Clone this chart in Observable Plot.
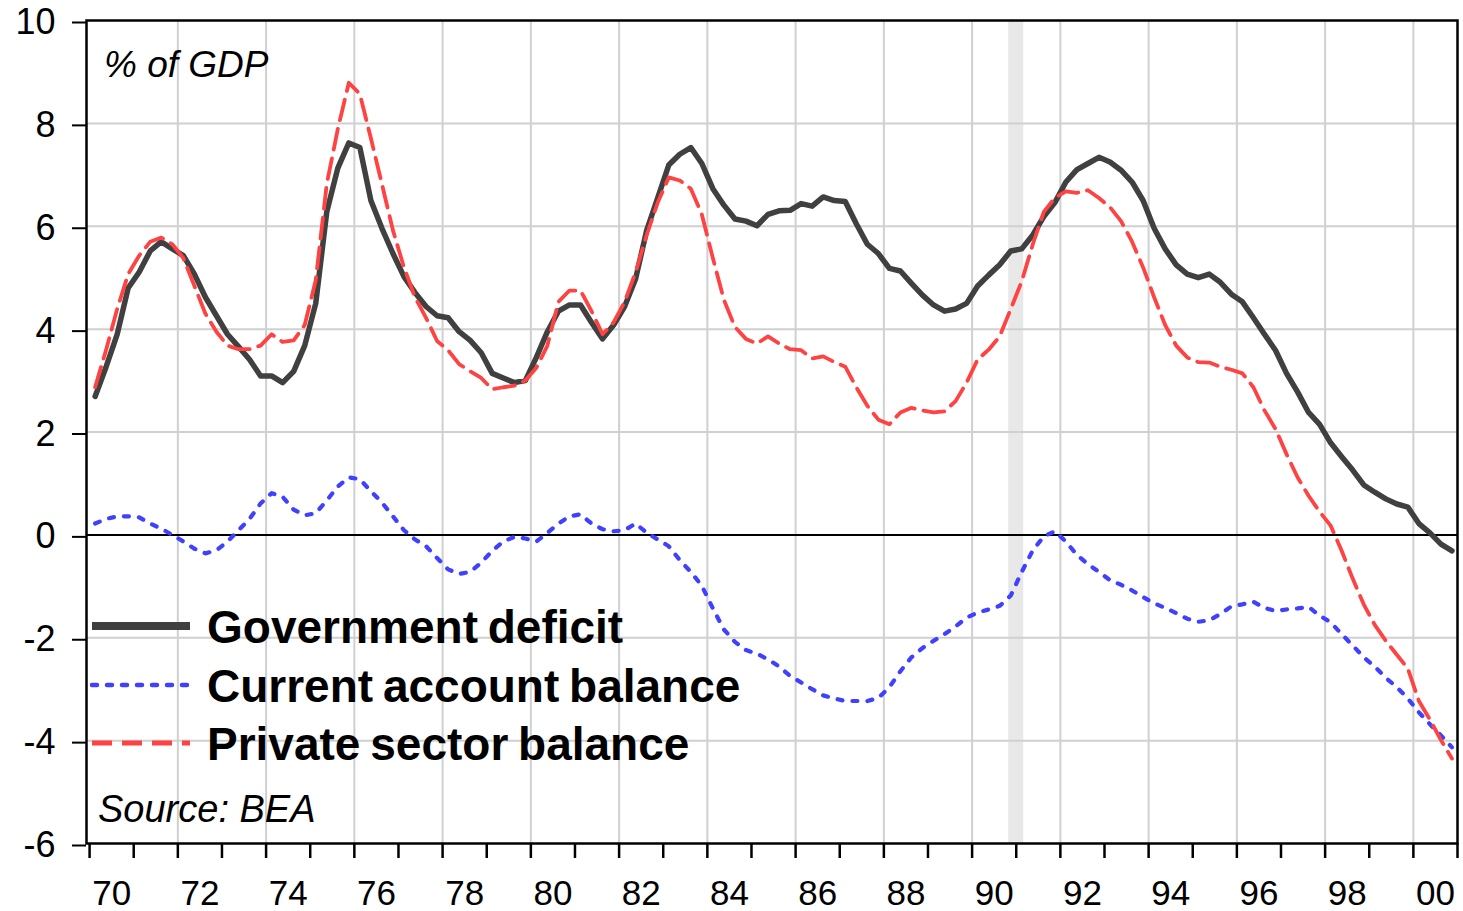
<!DOCTYPE html>
<html><head><meta charset="utf-8">
<script src="https://cdn.jsdelivr.net/npm/d3@7"></script>
<script src="https://cdn.jsdelivr.net/npm/@observablehq/plot@0.6"></script>
<style>
html,body{margin:0;padding:0;background:#fff;}
#wrap{position:relative;width:1463px;height:911px;font-family:"Liberation Sans",Arial,sans-serif;color:#000;}
.note{position:absolute;font-style:italic;font-size:37px;line-height:1;white-space:nowrap;}
.legtext{position:absolute;left:207px;font-weight:bold;font-size:46px;line-height:1;word-spacing:-3px;white-space:nowrap;}
.sw{position:absolute;left:90px;}
</style></head><body><div id="wrap"></div>
<script>
// Quarterly values, % of GDP, 1970Q1 .. 2000Q4
const startYear = 1970;
const govDeficit = [
  2.69, 3.27, 3.90, 4.80,  5.11, 5.52, 5.70, 5.56,  5.43, 5.07, 4.62, 4.26,  3.90, 3.66, 3.41, 3.09,
  3.09, 2.96, 3.18, 3.68,  4.50, 6.28, 7.13, 7.62,  7.53, 6.50, 5.96, 5.47,  5.02, 4.71, 4.44, 4.26,
  4.22, 3.95, 3.78, 3.54,  3.14, 3.05, 2.96, 3.00,  3.45, 3.95, 4.35, 4.47,  4.47, 4.13, 3.81, 4.08,
  4.44, 4.98, 5.92, 6.55,  7.19, 7.40, 7.53, 7.22,  6.73, 6.41, 6.14, 6.10,  6.01, 6.23, 6.30, 6.31,
  6.44, 6.39, 6.57, 6.50,  6.48, 6.05, 5.65, 5.47,  5.18, 5.13, 4.89, 4.66,  4.47, 4.35, 4.39, 4.50,
  4.84, 5.05, 5.25, 5.52,  5.56, 5.83, 6.19, 6.46,  6.86, 7.10, 7.22, 7.34,  7.25, 7.09, 6.86, 6.50,
  5.96, 5.56, 5.25, 5.07,  5.00, 5.07, 4.91, 4.68,  4.53, 4.22, 3.90, 3.59,  3.14, 2.78, 2.38, 2.15,
  1.79, 1.52, 1.26, 0.97,  0.83, 0.70, 0.60, 0.54,  0.22, 0.04, -0.18, -0.31
];
const currentAccount = [
  0.22, 0.31, 0.36, 0.36,  0.34, 0.22, 0.12, 0.00,  -0.13, -0.27, -0.36, -0.30,  -0.13, 0.09, 0.31, 0.61,
  0.81, 0.74, 0.49, 0.38,  0.42, 0.67, 0.94, 1.12,  1.08, 0.85, 0.63, 0.36,  0.09, -0.09, -0.22, -0.45,
  -0.67, -0.76, -0.72, -0.54,  -0.31, -0.13, -0.04, -0.07,  -0.13, 0.04, 0.22, 0.36,  0.40, 0.22, 0.11, 0.07,
  0.09, 0.22, 0.04, -0.09,  -0.22, -0.49, -0.72, -0.99,  -1.43, -1.84, -2.08, -2.24,  -2.31, -2.42, -2.56, -2.74,
  -2.87, -3.00, -3.12, -3.18,  -3.23, -3.23, -3.23, -3.17,  -2.96, -2.65, -2.38, -2.20,  -2.06, -1.93, -1.78, -1.61,
  -1.51, -1.45, -1.38, -1.18,  -0.72, -0.30, -0.03, 0.07,  -0.13, -0.39, -0.57, -0.72,  -0.88, -0.97, -1.08, -1.21,
  -1.33, -1.42, -1.52, -1.63,  -1.69, -1.66, -1.54, -1.39,  -1.35, -1.30, -1.42, -1.48,  -1.45, -1.43, -1.40, -1.57,
  -1.70, -1.93, -2.15, -2.38,  -2.56, -2.78, -2.96, -3.18,  -3.45, -3.68, -3.90, -4.13
];
const privateSector = [
  2.87, 3.60, 4.39, 5.07,  5.43, 5.70, 5.78, 5.65,  5.38, 4.84, 4.30, 3.95,  3.68, 3.61, 3.61, 3.68,
  3.90, 3.75, 3.78, 4.08,  4.95, 6.82, 7.89, 8.79,  8.57, 7.71, 6.82, 5.92,  5.20, 4.62, 4.22, 3.77,
  3.59, 3.32, 3.18, 3.05,  2.83, 2.87, 2.90, 3.00,  3.25, 3.68, 4.53, 4.75,  4.75, 4.35, 3.90, 4.13,
  4.53, 5.11, 5.83, 6.46,  6.95, 6.89, 6.73, 6.23,  5.38, 4.57, 4.04, 3.81,  3.72, 3.86, 3.72, 3.61,
  3.59, 3.43, 3.47, 3.36,  3.27, 2.87, 2.51, 2.24,  2.15, 2.38, 2.47, 2.42,  2.38, 2.40, 2.60, 2.96,
  3.41, 3.60, 3.86, 4.39,  4.93, 5.65, 6.28, 6.55,  6.68, 6.65, 6.70, 6.55,  6.37, 6.10, 5.70, 5.20,
  4.62, 4.08, 3.68, 3.45,  3.36, 3.35, 3.27, 3.21,  3.14, 2.87, 2.42, 2.06,  1.57, 1.12, 0.76, 0.45,
  0.18, -0.31, -0.85, -1.35,  -1.75, -2.06, -2.33, -2.60,  -3.23, -3.59, -3.99, -4.35
];
const seriesNames = ["Government deficit", "Current account balance", "Private sector balance"];
const yTicks = [-6, -4, -2, 0, 2, 4, 6, 8, 10];
const yearTicks = d3.range(1970, 2002);
const labelYears = [1970, 1972, 1974, 1976, 1978, 1980, 1982, 1984, 1986, 1988, 1990, 1992, 1994, 1996, 1998, 2000];
const labelTexts = ["70", "72", "74", "76", "78", "80", "82", "84", "86", "88", "90", "92", "94", "96", "98", "00"];
const recession = [{start: 1990.83, end: 1991.17}];
const noteTop = "% of GDP";
const noteBottom = "Source: BEA";

const toRows = arr => arr.map((v, i) => ({t: startYear + (i + 0.5) / 4, v}));
const gov = toRows(govDeficit), ca = toRows(currentAccount), ps = toRows(privateSector);
const labelMap = new Map(labelYears.map((y, i) => [y + 0.5, labelTexts[i]]));

const colors = {gov: "#404040", ca: "#4040ff", ps: "#ff4242"};

const chart = Plot.plot({
  width: 1463, height: 911,
  marginLeft: 86, marginRight: 6, marginTop: 20, marginBottom: 68,
  x: {domain: [1969.93, 2001], label: null},
  y: {domain: [-6, 10], label: null},
  style: {fontFamily: "'Liberation Sans', Arial, sans-serif", fontSize: "35px", color: "#000", background: "#fff", overflow: "visible"},
  marks: [
    Plot.rect(recession, {x1: "start", x2: "end", fill: "#e8e8e8"}),
    Plot.gridX(labelYears.slice(1), {stroke: "#d0d0d0", strokeOpacity: 1, strokeWidth: 2}),
    Plot.gridY(yTicks.slice(1, -1), {stroke: "#d0d0d0", strokeOpacity: 1, strokeWidth: 2}),
    Plot.ruleY([0], {stroke: "#000", strokeWidth: 2}),
    Plot.axisY(yTicks, {tickSize: 14, tickPadding: 17, strokeWidth: 2, fontSize: 36, dy: 2, tickFormat: d => String(d)}),
    Plot.axisX(yearTicks, {tickSize: 15, strokeWidth: 2.5, tickFormat: () => ""}),
    Plot.axisX(labelYears.map(y => y + 0.5), {tickSize: 0, tickPadding: 37, fontSize: 35, tickFormat: d => labelMap.get(d)}),
    Plot.line(gov, {x: "t", y: "v", stroke: colors.gov, strokeWidth: 5.5, strokeLinejoin: "round"}),
    Plot.line(ca, {x: "t", y: "v", stroke: colors.ca, strokeWidth: 4.2, strokeDasharray: "5,10", strokeLinecap: "round"}),
    Plot.line(ps, {x: "t", y: "v", stroke: colors.ps, strokeWidth: 3.8, strokeDasharray: "21,9"}),
    Plot.frame({stroke: "#000", strokeWidth: 2.5})
  ]
});

const wrap = document.getElementById("wrap");
wrap.appendChild(chart);

function addNote(text, left, baseline, size) {
  const d = document.createElement("div");
  d.className = "note";
  d.textContent = text;
  d.style.fontSize = size + "px";
  d.style.left = left + "px";
  d.style.top = (baseline - 0.8465 * size) + "px";
  wrap.appendChild(d);
}
addNote(noteTop, 104, 77, 37);
addNote(noteBottom, 98, 822, 38);

const legendStyles = [
  {color: colors.gov, width: 8, dash: null, cap: "butt"},
  {color: colors.ca, width: 4.5, dash: "5,10", cap: "round"},
  {color: colors.ps, width: 5, dash: "20,10", cap: "butt"}
];
const legendY = [626, 685, 743];
seriesNames.forEach((name, i) => {
  const s = legendStyles[i];
  const svg = d3.create("svg").attr("class", "sw").attr("width", 104).attr("height", 20)
    .style("top", (legendY[i] - 10) + "px");
  svg.append("line").attr("x1", 2).attr("x2", 100).attr("y1", 10).attr("y2", 10)
    .attr("stroke", s.color).attr("stroke-width", s.width)
    .attr("stroke-dasharray", s.dash).attr("stroke-linecap", s.cap);
  wrap.appendChild(svg.node());
  const t = document.createElement("div");
  t.className = "legtext";
  t.textContent = name;
  t.style.top = (legendY[i] + 17 - 38.9) + "px";
  wrap.appendChild(t);
});
</script></body></html>
